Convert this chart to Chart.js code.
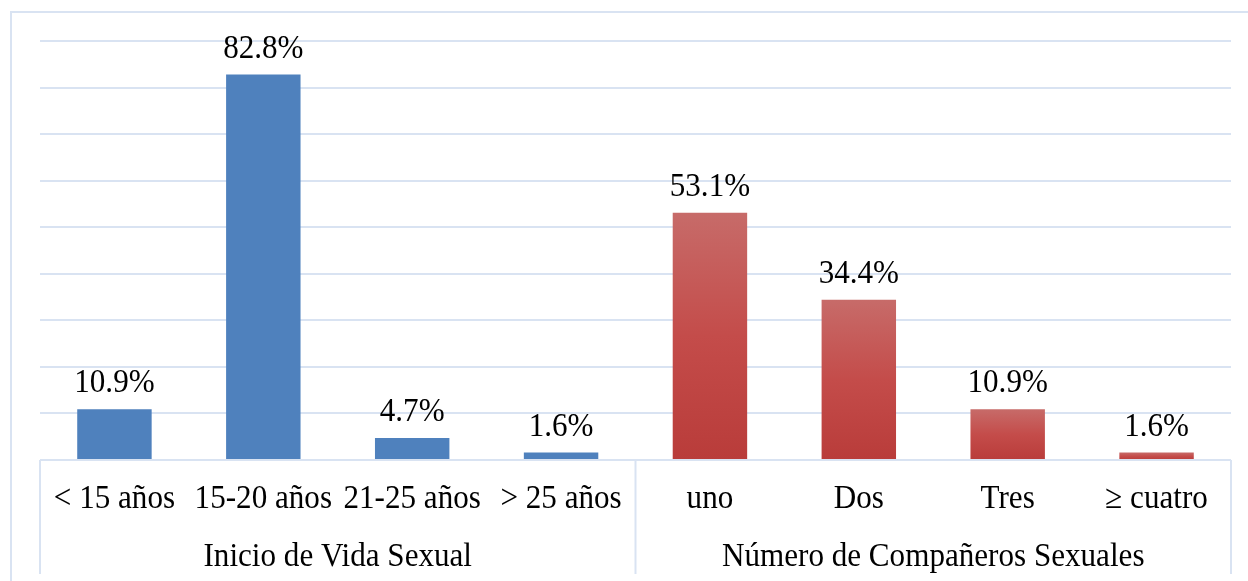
<!DOCTYPE html>
<html>
<head>
<meta charset="utf-8">
<script src="https://cdn.jsdelivr.net/npm/chart.js@4/dist/chart.umd.min.js"></script>
<style>
  html, body { margin: 0; padding: 0; background: #fff; }
  #wrap { width: 1248px; height: 581px; position: relative; }
</style>
</head>
<body>
<div id="wrap"><canvas id="chart" width="1248" height="581"></canvas></div>
<script>
// Datos del gráfico
const categories = ['< 15 años', '15-20 años', '21-25 años', '> 25 años', 'uno', 'Dos', 'Tres', '\u2265 cuatro'];
const values = [10.9, 82.8, 4.7, 1.6, 53.1, 34.4, 10.9, 1.6];
const groupLabels = ['Inicio de Vida Sexual', 'Número de Compañeros Sexuales'];
const groupSizes = [4, 4];
const yTicks = [0, 10, 20, 30, 40, 50, 60, 70, 80, 90];

const FONT = '"Liberation Serif", "Times New Roman", serif';
const LINE = '#D9E3F2';
const BLUE = '#4F81BD';

// Color de cada barra: azul para el primer grupo, degradado rojo para el segundo
function barColor(ctx) {
    if (ctx.type !== 'data') return BLUE;
    if (ctx.dataIndex < groupSizes[0]) return BLUE;
    const chart = ctx.chart;
    if (!chart.chartArea) return '#C0504D';
    const y = chart.scales.y;
    const top = y.getPixelForValue(ctx.parsed.y);
    const bottom = y.getPixelForValue(0);
    const g = chart.ctx.createLinearGradient(0, top, 0, bottom);
    g.addColorStop(0, '#C76B69');
    g.addColorStop(0.5, '#C44C4A');
    g.addColorStop(1, '#B93C3A');
    return g;
}

// texto algo estrecho, como en el original
function narrowText(c, txt, x, y) {
    c.save();
    c.translate(x, y);
    c.scale(0.915, 1);
    c.fillText(txt, 0, 0);
    c.restore();
}

// Plugin: marco exterior, etiquetas, separadores y nombres de grupos
const decor = {
    id: 'decor',
    beforeDraw(chart) {
        const c = chart.ctx;
        c.save();
        c.strokeStyle = LINE;
        c.lineWidth = 2;
        c.strokeRect(11, 12, 1260, 620);
        c.restore();
    },
    afterDatasetsDraw(chart) {
        const c = chart.ctx;
        const x = chart.scales.x;
        const y = chart.scales.y;
        const area = chart.chartArea;
        c.save();
        c.fillStyle = '#000';
        c.font = '34px ' + FONT;
        c.textAlign = 'center';
        c.textBaseline = 'alphabetic';
        // valores sobre las barras
        values.forEach((v, i) => {
            narrowText(c, v.toFixed(1) + '%', x.getPixelForValue(i), y.getPixelForValue(v) - 17);
        });
        // categorías
        categories.forEach((lab, i) => {
            narrowText(c, lab, x.getPixelForValue(i), 508);
        });

        // separadores verticales de grupos
        c.strokeStyle = LINE;
        c.lineWidth = 2;
        const half = (x.getPixelForValue(1) - x.getPixelForValue(0)) / 2;
        let start = 0;
        const bounds = [x.getPixelForValue(0) - half];
        groupSizes.forEach(n => {
            start += n;
            bounds.push(x.getPixelForValue(start - 1) + half);
        });
        bounds.forEach(bx => {
            c.beginPath();
            c.moveTo(bx, area.bottom);
            c.lineTo(bx, 574);
            c.stroke();
        });
        // nombres de grupos
        groupLabels.forEach((lab, i) => {
            narrowText(c, lab, (bounds[i] + bounds[i + 1]) / 2, 566);
        });
        c.restore();
    }
};

new Chart(document.getElementById('chart'), {
    type: 'bar',
    data: {
        labels: categories,
        datasets: [{
            data: values,
            backgroundColor: barColor,
            categoryPercentage: 1,
            barPercentage: 0.5
        }]
    },
    options: {
        responsive: false,
        animation: false,
        layout: { padding: { left: 40, right: 17, top: 41, bottom: 113 } },
        plugins: { legend: { display: false }, tooltip: { enabled: false } },
        scales: {
            x: {
                grid: { display: false },
                border: { display: false },
                ticks: { display: false }
            },
            y: {
                min: yTicks[0],
                max: yTicks[yTicks.length - 1],
                afterBuildTicks: s => { s.ticks = yTicks.map(v => ({ value: v })); },
                grid: { color: LINE, lineWidth: 2, drawTicks: false },
                border: { display: false },
                ticks: { display: false }
            }
        }
    },
    plugins: [decor]
});
</script>
</body>
</html>
